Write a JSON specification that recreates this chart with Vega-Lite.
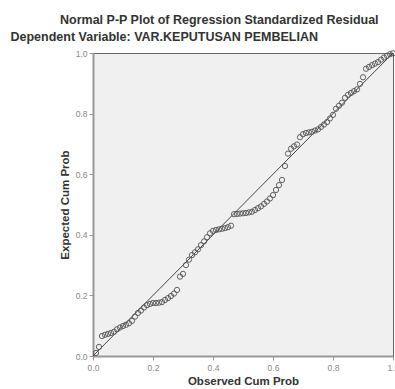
{
  "$schema": "https://vega.github.io/schema/vega-lite/v6.json",
  "width": 300,
  "height": 303,
  "autosize": "none",
  "padding": {"left": 93, "top": 53, "right": 2, "bottom": 33},
  "background": "white",
  "config": {
    "font": "Liberation Sans",
    "view": {"fill": "#f0f0f0", "stroke": "#666", "strokeWidth": 1},
    "axis": {"grid": false, "domainColor": "#999", "domainWidth": 2, "tickColor": "#999", "tickSize": 4, "labelColor": "#888", "labelFontSize": 8.5, "titleFont": "Liberation Sans", "titleFontWeight": "bold", "titleFontSize": 11.5, "titleColor": "#333"}
  },
  "title": {"text": "Normal P-P Plot of Regression Standardized Residual", "anchor": "start", "frame": "group", "dx": -33, "fontSize": 12.5, "fontWeight": "bold", "color": "#333", "offset": 4},
  "datasets": {
    "pts": [
      {"o":0.01,"e":0.010},{"o":0.02,"e":0.030},{"o":0.03,"e":0.066},{"o":0.04,"e":0.070},{"o":0.05,"e":0.073},
      {"o":0.06,"e":0.076},{"o":0.07,"e":0.080},{"o":0.08,"e":0.088},{"o":0.09,"e":0.094},{"o":0.10,"e":0.099},
      {"o":0.11,"e":0.103},{"o":0.12,"e":0.108},{"o":0.13,"e":0.116},{"o":0.14,"e":0.130},{"o":0.15,"e":0.142},
      {"o":0.16,"e":0.150},{"o":0.17,"e":0.160},{"o":0.18,"e":0.168},{"o":0.19,"e":0.172},{"o":0.20,"e":0.175},
      {"o":0.21,"e":0.175},{"o":0.22,"e":0.176},{"o":0.23,"e":0.178},{"o":0.24,"e":0.185},{"o":0.25,"e":0.191},
      {"o":0.26,"e":0.198},{"o":0.27,"e":0.206},{"o":0.28,"e":0.218},{"o":0.29,"e":0.262},{"o":0.30,"e":0.271},
      {"o":0.31,"e":0.300},{"o":0.32,"e":0.318},{"o":0.33,"e":0.333},{"o":0.34,"e":0.342},{"o":0.35,"e":0.352},
      {"o":0.36,"e":0.366},{"o":0.37,"e":0.378},{"o":0.38,"e":0.392},{"o":0.39,"e":0.405},{"o":0.40,"e":0.413},
      {"o":0.41,"e":0.416},{"o":0.42,"e":0.418},{"o":0.43,"e":0.420},{"o":0.44,"e":0.422},{"o":0.45,"e":0.425},
      {"o":0.46,"e":0.430},{"o":0.47,"e":0.468},{"o":0.48,"e":0.469},{"o":0.49,"e":0.470},{"o":0.50,"e":0.471},
      {"o":0.51,"e":0.472},{"o":0.52,"e":0.474},{"o":0.53,"e":0.476},{"o":0.54,"e":0.482},{"o":0.55,"e":0.488},
      {"o":0.56,"e":0.494},{"o":0.57,"e":0.502},{"o":0.58,"e":0.510},{"o":0.59,"e":0.520},{"o":0.60,"e":0.531},
      {"o":0.61,"e":0.548},{"o":0.62,"e":0.564},{"o":0.63,"e":0.581},{"o":0.64,"e":0.627},{"o":0.65,"e":0.668},
      {"o":0.66,"e":0.684},{"o":0.67,"e":0.692},{"o":0.68,"e":0.698},{"o":0.69,"e":0.722},{"o":0.70,"e":0.732},
      {"o":0.71,"e":0.736},{"o":0.72,"e":0.738},{"o":0.73,"e":0.740},{"o":0.74,"e":0.744},{"o":0.75,"e":0.748},
      {"o":0.76,"e":0.756},{"o":0.77,"e":0.764},{"o":0.78,"e":0.772},{"o":0.79,"e":0.784},{"o":0.80,"e":0.796},
      {"o":0.81,"e":0.816},{"o":0.82,"e":0.826},{"o":0.83,"e":0.836},{"o":0.84,"e":0.852},{"o":0.85,"e":0.862},
      {"o":0.86,"e":0.868},{"o":0.87,"e":0.874},{"o":0.88,"e":0.880},{"o":0.89,"e":0.898},{"o":0.90,"e":0.920},
      {"o":0.91,"e":0.948},{"o":0.92,"e":0.954},{"o":0.93,"e":0.960},{"o":0.94,"e":0.965},{"o":0.95,"e":0.970},
      {"o":0.96,"e":0.978},{"o":0.97,"e":0.985},{"o":0.98,"e":0.991},{"o":0.99,"e":0.996},{"o":1.00,"e":0.999}
    ],
    "diag": [{"o":0,"e":0},{"o":1,"e":1}]
  },
  "resolve": {"axis": {"x": "independent", "y": "independent"}},
  "layer": [
    {
      "data": {"name": "diag"},
      "mark": {"type": "line", "color": "#444", "strokeWidth": 1},
      "encoding": {
        "x": {"field": "o", "type": "quantitative", "scale": {"domain": [0, 1], "nice": false, "zero": false},
              "axis": {"orient": "bottom", "title": "Observed Cum Prob", "values": [0, 0.2, 0.4, 0.6, 0.8, 1.0], "format": ".1f", "titlePadding": 4, "labelPadding": 3, "labelFlush": false}},
        "y": {"field": "e", "type": "quantitative", "scale": {"domain": [0, 1], "nice": false, "zero": false},
              "axis": {"orient": "left", "title": "Expected Cum Prob", "values": [0, 0.2, 0.4, 0.6, 0.8, 1.0], "format": ".1f", "titlePadding": 5, "labelPadding": 2, "labelFlush": false}}
      }
    },
    {
      "data": {"name": "pts"},
      "mark": {"type": "point", "shape": "circle", "filled": false, "stroke": "#555", "strokeWidth": 1, "size": 28, "opacity": 0.9},
      "encoding": {
        "x": {"field": "o", "type": "quantitative",
              "axis": {"orient": "top", "title": "Dependent Variable: VAR.KEPUTUSAN PEMBELIAN", "labels": false, "ticks": false, "domainColor": "#666", "domainWidth": 1, "titleAnchor": "start", "titleAlign": "left", "titleX": -83, "titleY": -10, "titleFontSize": 12.5, "titleColor": "#333"}},
        "y": {"field": "e", "type": "quantitative",
              "axis": {"orient": "right", "title": null, "labels": false, "ticks": false, "domainColor": "#666", "domainWidth": 1}}
      }
    }
  ]
}
